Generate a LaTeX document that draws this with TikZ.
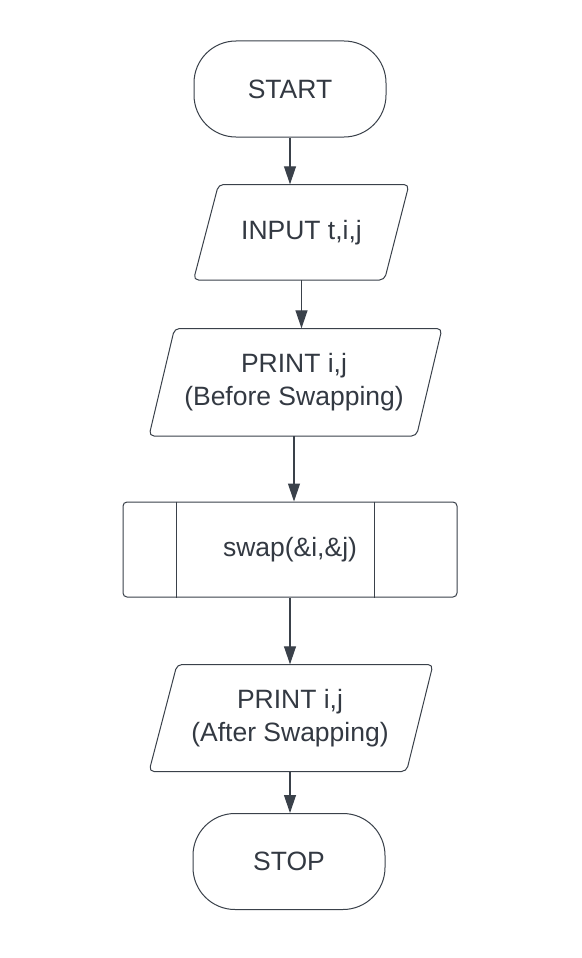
\documentclass[tikz,border=0pt]{standalone}
\usepackage{fontspec}
\setmainfont{Liberation Sans}
\usetikzlibrary{arrows.meta}
\definecolor{linegray}{RGB}{58,65,74}
\definecolor{textgray}{RGB}{51,57,66}
\begin{document}
\begin{tikzpicture}[x=1pt, y=-1pt,
    font=\fontsize{26.5}{33}\selectfont,
    terminal/.style={rectangle, rounded corners=42pt, draw=linegray, line width=1pt, minimum width=192pt, minimum height=96pt, text=textgray},
    iotext/.style={text=textgray, align=center, inner sep=0pt},
    ioshape/.style={draw=linegray, line width=1pt, rounded corners=5pt},
    procbox/.style={rectangle, rounded corners=4pt, draw=linegray, line width=1pt, minimum width=334pt, minimum height=95pt, text=textgray},
    flow/.style={-{Triangle[length=18pt,width=12pt]}, draw=linegray, line width=1.2pt}
]
    % Hintergrund
    \fill[white] (0,0) rectangle (581,958);
    \useasboundingbox (0,0) rectangle (581,958);

    % Start und Eingabe
    \node[terminal] (start) at (290,89) {START};
    \draw[ioshape] (193.5,280) -- (218.5,184.5) -- (409,184.5) -- (384.5,280) -- cycle;
    \node[iotext, minimum height=95.5pt] (input) at (301.5,232.25) {INPUT t,i,j};

    % Ausgabe vor dem Tauschen
    \draw[ioshape] (149,436) -- (174.5,328.5) -- (442,328.5) -- (416.5,436) -- cycle;
    \node[iotext, minimum height=107.5pt] (before) at (294,382.25) {PRINT i,j\\(Before Swapping)};

    % Unterprogramm swap
    \node[procbox] (swapbox) at (290,549.5) {swap(\&i,\&j)};
    \draw[draw=linegray, line width=1pt] ([xshift=54pt]swapbox.north west) -- ([xshift=54pt]swapbox.south west);
    \draw[draw=linegray, line width=1pt] ([xshift=-83pt]swapbox.north east) -- ([xshift=-83pt]swapbox.south east);

    % Ausgabe nach dem Tauschen und Ende
    \draw[ioshape] (149,771.5) -- (177,664.5) -- (433,664.5) -- (406.5,771.5) -- cycle;
    \node[iotext, minimum height=107pt] (after) at (290,718) {PRINT i,j\\(After Swapping)};
    \node[terminal] (stop) at (289,861.5) {STOP};

    % Pfeile
    \draw[flow] (start.south) -- (start.south |- input.north);
    \draw[flow] (input.south) -- (input.south |- before.north);
    \draw[flow] (before.south) -- (before.south |- swapbox.north);
    \draw[flow] (swapbox.south) -- (swapbox.south |- after.north);
    \draw[flow] (after.south) -- (after.south |- stop.north);
\end{tikzpicture}
\end{document}
